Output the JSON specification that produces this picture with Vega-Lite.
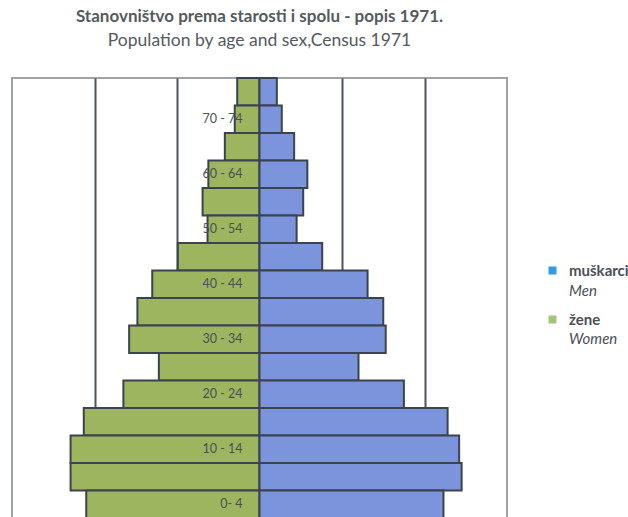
{
  "$schema": "https://vega.github.io/schema/vega-lite/v6.json",
  "width": 495,
  "height": 440,
  "autosize": {"type": "none"},
  "padding": {"left": 12, "top": 78, "right": 121, "bottom": 0},
  "background": "white",
  "title": {
    "text": "Stanovništvo prema starosti i spolu - popis 1971.",
    "subtitle": "Population by age and sex,Census 1971",
    "anchor": "middle",
    "font": "Lato",
    "fontSize": 17,
    "fontWeight": "bold",
    "color": "#555a60",
    "subtitleFont": "Lato",
    "subtitleFontSize": 17.5,
    "subtitleColor": "#555a60",
    "subtitlePadding": 6,
    "offset": 27
  },
  "config": {
    "view": {"stroke": "#9ea3aa", "strokeWidth": 2},
    "font": "Lato"
  },
  "data": {
    "values": [
      {"age": "75+", "spol": "žene", "en": "Women", "v": -27, "label": ""},
      {"age": "70 - 74", "spol": "žene", "en": "Women", "v": -30, "label": "70 - 74"},
      {"age": "65 - 69", "spol": "žene", "en": "Women", "v": -42, "label": ""},
      {"age": "60 - 64", "spol": "žene", "en": "Women", "v": -62, "label": "60 - 64"},
      {"age": "55 - 59", "spol": "žene", "en": "Women", "v": -69, "label": ""},
      {"age": "50 - 54", "spol": "žene", "en": "Women", "v": -63, "label": "50 - 54"},
      {"age": "45 - 49", "spol": "žene", "en": "Women", "v": -99, "label": ""},
      {"age": "40 - 44", "spol": "žene", "en": "Women", "v": -130, "label": "40 - 44"},
      {"age": "35 - 39", "spol": "žene", "en": "Women", "v": -148, "label": ""},
      {"age": "30 - 34", "spol": "žene", "en": "Women", "v": -158, "label": "30 - 34"},
      {"age": "25 - 29", "spol": "žene", "en": "Women", "v": -122, "label": ""},
      {"age": "20 - 24", "spol": "žene", "en": "Women", "v": -165, "label": "20 - 24"},
      {"age": "15 - 19", "spol": "žene", "en": "Women", "v": -213, "label": ""},
      {"age": "10 - 14", "spol": "žene", "en": "Women", "v": -229, "label": "10 - 14"},
      {"age": "5 - 9", "spol": "žene", "en": "Women", "v": -229, "label": ""},
      {"age": "0 - 4", "spol": "žene", "en": "Women", "v": -210, "label": "0- 4"},
      {"age": "75+", "spol": "muškarci", "en": "Men", "v": 21, "label": ""},
      {"age": "70 - 74", "spol": "muškarci", "en": "Men", "v": 27, "label": ""},
      {"age": "65 - 69", "spol": "muškarci", "en": "Men", "v": 42, "label": ""},
      {"age": "60 - 64", "spol": "muškarci", "en": "Men", "v": 58, "label": ""},
      {"age": "55 - 59", "spol": "muškarci", "en": "Men", "v": 53, "label": ""},
      {"age": "50 - 54", "spol": "muškarci", "en": "Men", "v": 45, "label": ""},
      {"age": "45 - 49", "spol": "muškarci", "en": "Men", "v": 76, "label": ""},
      {"age": "40 - 44", "spol": "muškarci", "en": "Men", "v": 131, "label": ""},
      {"age": "35 - 39", "spol": "muškarci", "en": "Men", "v": 150, "label": ""},
      {"age": "30 - 34", "spol": "muškarci", "en": "Men", "v": 153, "label": ""},
      {"age": "25 - 29", "spol": "muškarci", "en": "Men", "v": 120, "label": ""},
      {"age": "20 - 24", "spol": "muškarci", "en": "Men", "v": 175, "label": ""},
      {"age": "15 - 19", "spol": "muškarci", "en": "Men", "v": 228, "label": ""},
      {"age": "10 - 14", "spol": "muškarci", "en": "Men", "v": 242, "label": ""},
      {"age": "5 - 9", "spol": "muškarci", "en": "Men", "v": 245, "label": ""},
      {"age": "0 - 4", "spol": "muškarci", "en": "Men", "v": 223, "label": ""}
    ]
  },
  "encoding": {
    "y": {
      "field": "age",
      "type": "nominal",
      "sort": ["75+", "70 - 74", "65 - 69", "60 - 64", "55 - 59", "50 - 54", "45 - 49", "40 - 44", "35 - 39", "30 - 34", "25 - 29", "20 - 24", "15 - 19", "10 - 14", "5 - 9", "0 - 4"],
      "scale": {"paddingInner": 0, "paddingOuter": 0},
      "axis": null
    }
  },
  "resolve": {"scale": {"color": "independent"}, "legend": {"color": "independent"}},
  "layer": [
    {
      "mark": {"type": "bar", "stroke": "#3b4350", "strokeWidth": 2},
      "encoding": {
        "x": {
          "field": "v",
          "type": "quantitative",
          "scale": {"domain": [-300, 300], "nice": false, "zero": false},
          "axis": {
            "values": [-200, -100, 100, 200],
            "grid": true,
            "gridColor": "#4d5561",
            "gridWidth": 2,
            "gridOpacity": 1,
            "labels": false,
            "ticks": false,
            "domain": false,
            "title": null
          }
        },
        "color": {
          "field": "spol",
          "type": "nominal",
          "scale": {"domain": ["muškarci", "žene"], "range": ["#7c94dc", "#9db55e"]},
          "legend": null
        }
      }
    },
    {
      "mark": {"type": "point", "opacity": 0, "filled": true},
      "encoding": {
        "x": {"field": "v", "type": "quantitative"},
        "color": {
          "field": "spol",
          "type": "nominal",
          "scale": {"domain": ["muškarci", "žene"], "range": ["#2f9be6", "#a7c47c"]},
          "legend": {
            "title": null,
            "orient": "none",
            "legendX": 533,
            "legendY": 185,
            "padding": 0,
            "symbolType": "square",
            "symbolSize": 64,
            "symbolOpacity": 1,
            "symbolStrokeWidth": 0,
            "labelOffset": 9,
            "labelFont": "Lato",
            "labelFontSize": 15,
            "labelFontWeight": "bold",
            "labelColor": "#4a4f55",
            "rowPadding": 33
          }
        }
      }
    },
    {
      "mark": {"type": "point", "opacity": 0},
      "encoding": {
        "x": {"field": "v", "type": "quantitative"},
        "shape": {
          "field": "en",
          "type": "nominal",
          "scale": {"domain": ["Men", "Women"]},
          "legend": {
            "title": null,
            "orient": "none",
            "legendX": 533,
            "legendY": 205,
            "padding": 0,
            "symbolSize": 64,
            "symbolOpacity": 0,
            "symbolStrokeWidth": 0,
            "labelOffset": 9,
            "labelFont": "Lato",
            "labelFontSize": 15,
            "labelFontStyle": "italic",
            "labelColor": "#4a4f55",
            "rowPadding": 32
          }
        }
      }
    },
    {
      "transform": [{"filter": "datum.label !== ''"}],
      "mark": {"type": "text", "align": "right", "baseline": "middle", "dx": -17, "fontSize": 12.5, "color": "#4a4f55", "font": "Lato"},
      "encoding": {
        "x": {"datum": 0},
        "text": {"field": "label"}
      }
    }
  ]
}
